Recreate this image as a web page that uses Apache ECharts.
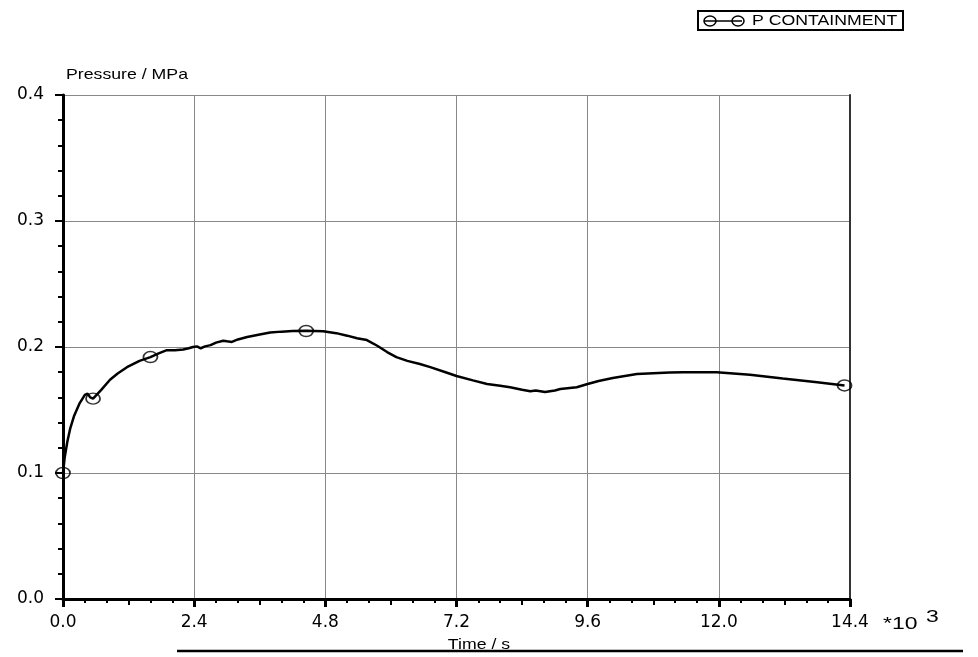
<!DOCTYPE html>
<html>
<head>
<meta charset="utf-8">
<script src="https://cdn.jsdelivr.net/npm/echarts@6/dist/echarts.min.js"></script>
<style>html,body{margin:0;padding:0;background:#fff;}#c{width:978px;height:657px;}</style>
</head>
<body>
<div id="c"></div>
<script>
// Time in thousands of seconds (*10^3 s)
const timeKs = [0, 0.03, 0.08, 0.13, 0.2, 0.3, 0.4, 0.45, 0.5, 0.55, 0.7, 0.86, 1.0, 1.17, 1.4, 1.6, 1.75, 1.9, 2.05, 2.2, 2.3, 2.38, 2.45, 2.52, 2.6, 2.7, 2.8, 2.93, 3.0, 3.09, 3.2, 3.37, 3.6, 3.79, 4.0, 4.2, 4.45, 4.76, 5.0, 5.2, 5.38, 5.56, 5.75, 5.93, 6.1, 6.3, 6.53, 6.72, 7.0, 7.2, 7.5, 7.76, 8.0, 8.18, 8.4, 8.55, 8.65, 8.82, 9.0, 9.1, 9.4, 9.6, 9.8, 10.06, 10.5, 11.1, 11.35, 11.96, 12.57, 13.17, 13.8, 14.3];
const pressure = [0.100, 0.112, 0.125, 0.135, 0.145, 0.155, 0.162, 0.163, 0.160, 0.159, 0.166, 0.174, 0.179, 0.184, 0.189, 0.192, 0.195, 0.1975, 0.1975, 0.198, 0.199, 0.200, 0.2005, 0.199, 0.2005, 0.2015, 0.2035, 0.205, 0.2045, 0.204, 0.206, 0.208, 0.210, 0.2115, 0.2122, 0.2127, 0.2128, 0.2125, 0.211, 0.209, 0.207, 0.2055, 0.201, 0.196, 0.192, 0.189, 0.1865, 0.184, 0.180, 0.177, 0.1735, 0.1706, 0.1693, 0.168, 0.166, 0.1648, 0.1655, 0.1643, 0.1655, 0.1667, 0.168, 0.1706, 0.173, 0.1754, 0.1786, 0.1798, 0.180, 0.180, 0.178, 0.175, 0.172, 0.1695];
const markerTime = [0, 0.55, 1.6, 4.45, 14.3];
const markerPressure = [0.100, 0.159, 0.192, 0.2127, 0.1695];
const seriesName = 'P CONTAINMENT';
const xTitle = 'Time / s';
const yTitle = 'Pressure / MPa';
const xScaleNote = '*10';
const xScaleExp = '3';

const FONT = 'Liberation Sans, Arial, sans-serif';
const TICKFONT = 'DejaVu Sans, Liberation Sans, sans-serif';
const STRETCH = 1.18;
const chart = echarts.init(document.getElementById('c'), null, {renderer: 'canvas'});

const lineData = timeKs.map((t, i) => [t, pressure[i]]);
const markData = markerTime.map((t, i) => [t, markerPressure[i]]);

chart.setOption({
  animation: false,
  backgroundColor: '#fff',
  grid: {left: 63, right: 128, top: 95, bottom: 58, containLabel: false},
  xAxis: [{
    type: 'value', min: 0, max: 14.4, interval: 2.4,
    axisLine: {show: true, onZero: false, lineStyle: {color: '#000', width: 3}},
    axisTick: {show: true, length: 8, lineStyle: {color: '#000', width: 3}},
    minorTick: {show: true, splitNumber: 6, length: 4, lineStyle: {color: '#000', width: 2}},
    splitLine: {show: true, lineStyle: {color: '#888', width: 1}},
    axisLabel: {margin: 15, fontSize: 17, fontFamily: TICKFONT, color: '#000', formatter: v => v.toFixed(1)}
  }, {
    type: 'value', min: 0, max: 14.4, interval: 1.2, position: 'bottom',
    axisLine: {show: false}, axisLabel: {show: false}, splitLine: {show: false},
    axisTick: {show: true, length: 6, lineStyle: {color: '#000', width: 2}}
  }],
  yAxis: [{
    type: 'value', min: 0, max: 0.4, interval: 0.1,
    axisLine: {show: true, onZero: false, lineStyle: {color: '#000', width: 3}},
    axisTick: {show: true, length: 8, lineStyle: {color: '#000', width: 2}},
    minorTick: {show: true, splitNumber: 5, length: 5, lineStyle: {color: '#000', width: 2}},
    splitLine: {show: true, lineStyle: {color: '#888', width: 1}},
    axisLabel: {margin: 19, fontSize: 17, fontFamily: TICKFONT, color: '#000', formatter: v => v.toFixed(1)}
  }, {
    type: 'value', min: 0, max: 0.4, interval: 0.1, position: 'right',
    axisLine: {show: true, onZero: false, lineStyle: {color: '#333', width: 2}},
    axisTick: {show: false}, axisLabel: {show: false}, splitLine: {show: false}
  }],
  series: [{
    name: seriesName, type: 'line', data: lineData, showSymbol: false, smooth: false,
    lineStyle: {color: '#000', width: 2.5}, z: 3
  }, {
    name: seriesName, type: 'scatter', data: markData, symbol: 'circle', symbolSize: [14, 11],
    itemStyle: {color: 'rgba(255,255,255,0)', borderColor: '#000', borderWidth: 1.6}, z: 4
  }],
  graphic: [
    {type: 'rect', shape: {x: 698, y: 11, width: 205, height: 19}, style: {fill: '#fff', stroke: '#000', lineWidth: 2}},
    {type: 'line', shape: {x1: 704, y1: 21, x2: 742, y2: 21}, style: {stroke: '#000', lineWidth: 1.5}},
    {type: 'ellipse', shape: {cx: 710, cy: 21, rx: 6, ry: 5}, style: {fill: 'rgba(255,255,255,0)', stroke: '#000', lineWidth: 1.5}},
    {type: 'ellipse', shape: {cx: 738, cy: 21, rx: 6, ry: 5}, style: {fill: 'rgba(255,255,255,0)', stroke: '#000', lineWidth: 1.5}},
    {type: 'text', x: 752, y: 21, scaleX: STRETCH, style: {text: seriesName, font: '15px ' + FONT, fill: '#000', verticalAlign: 'middle'}},
    {type: 'text', x: 66, y: 75, scaleX: STRETCH, style: {text: yTitle, font: '15px ' + FONT, fill: '#000', verticalAlign: 'middle'}},
    {type: 'text', x: 479, y: 645, scaleX: STRETCH, style: {text: xTitle, font: '15px ' + FONT, fill: '#000', align: 'center', verticalAlign: 'middle'}},
    {type: 'line', shape: {x1: 177, y1: 651, x2: 963, y2: 651}, style: {stroke: '#000', lineWidth: 2.5}, z: 10},
    {type: 'text', x: 883, y: 624, scaleX: 1.35, style: {text: xScaleNote, font: '17px ' + FONT, fill: '#000', verticalAlign: 'middle'}},
    {type: 'text', x: 926, y: 617, scaleX: 1.35, style: {text: xScaleExp, font: '17px ' + FONT, fill: '#000', verticalAlign: 'middle'}}
  ]
});
</script>
</body>
</html>
